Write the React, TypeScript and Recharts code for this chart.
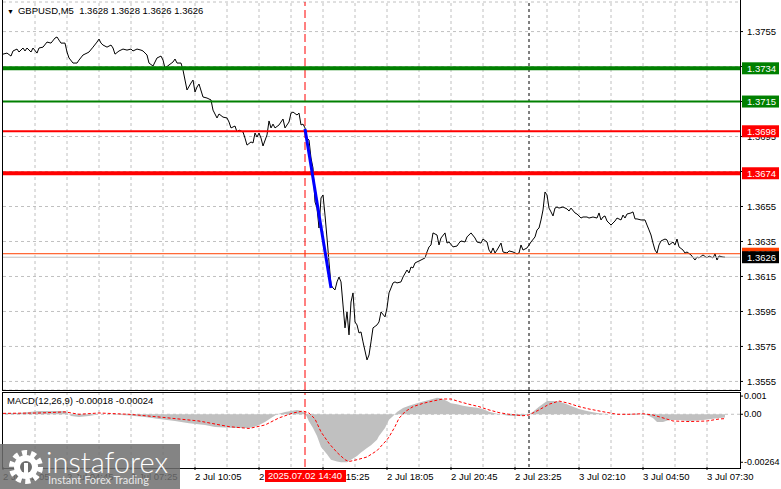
import React from "react";
import {
  ComposedChart,
  Line,
  Area,
  XAxis,
  YAxis,
  CartesianGrid,
  ReferenceLine,
} from "recharts";

// GBPUSD M5, bar index 0 = 2 Jul 02:05
const priceBars = [
  0, 2, 4, 5, 7, 8, 10, 11, 12, 14, 15, 17, 18, 20, 22, 24, 26, 27, 28, 29, 31, 32, 33, 35, 37, 38, 40, 42, 43, 45,
  47, 48, 49, 50, 52, 54, 55, 56, 58, 60, 62, 64, 65, 67, 69, 70, 72, 73, 75, 77, 79, 80, 81, 83, 85, 86, 87, 89, 90, 91,
  92, 94, 95, 96, 97, 98, 100, 102, 104, 105, 107, 108, 110, 112, 113, 114, 116, 117, 118, 120, 121, 122, 124, 125, 126, 127, 128, 129, 130, 132,
  133, 134, 135, 136, 138, 140, 141, 143, 144, 145, 147, 148, 149, 150, 151, 152, 153, 154, 155, 156, 157, 158, 159, 160, 161, 162, 163, 164, 165, 166,
  167, 168, 169, 170, 171, 172, 173, 174, 175, 176, 177, 178, 179, 180, 182, 183, 184, 185, 187, 188, 189, 191, 192, 193, 194, 195, 196, 197, 199, 200,
  202, 203, 204, 205, 206, 207, 209, 211, 212, 213, 214, 215, 217, 218, 219, 221, 222, 223, 225, 227, 228, 229, 231, 232, 234, 236, 237, 239, 240, 242,
  243, 244, 245, 246, 247, 249, 250, 252, 253, 255, 257, 258, 259, 260, 262, 263, 264, 266, 267, 268, 269, 270, 271, 272, 273, 274, 275, 276, 277, 278,
  280, 282, 283, 284, 286, 287, 289, 290, 292, 293, 295, 297, 298, 299, 300, 301, 302, 304, 306, 307, 309, 310, 311, 312, 314, 315, 316, 317, 319, 321,
  322, 323, 324, 325, 326, 327, 328, 329, 331, 332, 333, 335, 336, 337, 338, 340, 341, 342, 344, 346, 347, 348, 350, 352, 353, 355, 356, 357, 358, 360,
  361,
];
const priceClose = [
  1.37421, 1.37427, 1.3741, 1.37439, 1.3745, 1.37433, 1.37456, 1.37439, 1.37456, 1.37433, 1.37456, 1.37427, 1.37456, 1.37461, 1.3749, 1.37484, 1.37513, 1.37519, 1.37501, 1.37484, 1.37484, 1.37433, 1.37399, 1.3737, 1.3737, 1.37387, 1.37416, 1.37427, 1.37433, 1.37461,
  1.3749, 1.37507, 1.37484, 1.37473, 1.37461, 1.37473, 1.37456, 1.37421, 1.37439, 1.3745, 1.37444, 1.3745, 1.37439, 1.3745, 1.37444, 1.37439, 1.37416, 1.3737, 1.37353, 1.37399, 1.3741, 1.37387, 1.37341, 1.37359, 1.37376, 1.37393, 1.3737, 1.3737, 1.3733, 1.37273,
  1.37216, 1.37256, 1.37273, 1.37204, 1.37233, 1.3725, 1.37176, 1.3717, 1.37159, 1.37101, 1.37056, 1.37079, 1.37061, 1.37056, 1.37033, 1.36999, 1.3701, 1.36976, 1.36987, 1.36976, 1.36941, 1.36901, 1.36919, 1.36913, 1.3697, 1.36947, 1.3697, 1.36941, 1.36896, 1.36959,
  1.37039, 1.36999, 1.37021, 1.36999, 1.37016, 1.3705, 1.36999, 1.37033, 1.37084, 1.3709, 1.37073, 1.37084, 1.37016, 1.37021, 1.36999, 1.36941, 1.3693, 1.36827, 1.3677, 1.36576, 1.36541, 1.36427, 1.36599, 1.36616, 1.36501, 1.3637, 1.36233, 1.36101, 1.36084, 1.36073,
  1.36119, 1.36147, 1.36119, 1.35987, 1.35856, 1.35947, 1.35816, 1.36004, 1.36056, 1.3589, 1.35873, 1.35827, 1.35833, 1.35776, 1.35673, 1.35701, 1.35776, 1.35856, 1.35873, 1.3589, 1.35947, 1.35919, 1.3597, 1.36056, 1.36084, 1.36113, 1.36119, 1.36113, 1.36119, 1.36147,
  1.36187, 1.3617, 1.36204, 1.36199, 1.36227, 1.36233, 1.36244, 1.36256, 1.3629, 1.36319, 1.3633, 1.36399, 1.36387, 1.3633, 1.3637, 1.36399, 1.36341, 1.36347, 1.36319, 1.36324, 1.36341, 1.36353, 1.36347, 1.36376, 1.36399, 1.3637, 1.36347, 1.36341, 1.36364, 1.36347,
  1.36301, 1.36284, 1.36313, 1.36284, 1.36301, 1.36341, 1.3629, 1.36284, 1.36296, 1.3629, 1.36279, 1.36284, 1.3633, 1.36301, 1.36313, 1.3633, 1.36347, 1.36376, 1.36416, 1.36427, 1.36473, 1.3653, 1.36633, 1.36616, 1.36541, 1.36519, 1.36496, 1.36541, 1.36547, 1.36541,
  1.36547, 1.36536, 1.36524, 1.36541, 1.36513, 1.36507, 1.36484, 1.3649, 1.3649, 1.36484, 1.3649, 1.36484, 1.36513, 1.36473, 1.3649, 1.36496, 1.36467, 1.36444, 1.36467, 1.36484, 1.36473, 1.36501, 1.36484, 1.36507, 1.36513, 1.36519, 1.36479, 1.36479, 1.36473, 1.36473,
  1.36444, 1.36416, 1.36387, 1.36341, 1.36301, 1.36284, 1.3633, 1.36353, 1.36364, 1.36359, 1.3633, 1.36347, 1.3633, 1.36364, 1.36319, 1.36301, 1.36284, 1.3629, 1.36273, 1.36244, 1.36261, 1.36256, 1.36273, 1.36256, 1.36267, 1.36256, 1.36279, 1.36244, 1.36267, 1.36261,
  1.3626,
];

const macdBars = [
  0, 8, 18, 26, 31, 34, 38, 43, 48, 53, 63, 71, 78, 86, 93, 101, 106, 116, 123, 127, 131, 134, 137, 141, 144, 147, 149, 151, 153, 155,
  157, 159, 162, 164, 167, 169, 172, 174, 177, 179, 182, 184, 187, 188, 191, 193, 196, 197, 200, 203, 207, 210, 213, 217, 219, 222, 224, 227, 230, 233,
  237, 240, 243, 247, 250, 253, 257, 260, 263, 265, 268, 272, 275, 278, 282, 285, 288, 292, 295, 298, 303, 310, 317, 322, 325, 327, 330, 333, 338, 343,
  350, 357, 361,
];
const macdMain = [
  0.00007, 0.00007, 0.00018, 0.00018, 0.00018, -0.0001, -0.00015, -0.0001, 0, 0, -0.00007, -0.00015, -0.00026, -0.00037, -0.0005, -0.00059, -0.0007, -0.00075, -0.00075, -0.00064, -0.00042, -0.0002, 0, 0.00013, 0.00018, 0.00024, 0.0002, 0.00007, -0.0004, -0.00075,
  -0.0012, -0.0018, -0.0022, -0.0025, -0.0026, -0.00264, -0.00264, -0.0025, -0.0023, -0.0021, -0.00185, -0.0017, -0.0014, -0.0012, -0.00075, -0.0003, 0, 0.00013, 0.00035, 0.00047, 0.0006, 0.0007, 0.00079, 0.00091, 0.00088, 0.00073, 0.0006, 0.00055, 0.00047, 0.00042,
  0.00036, 0.00029, 0.00014, 0.00003, -0.00002, -0.00008, -0.0001, -0.00008, 0, 0.00014, 0.00042, 0.00073, 0.00073, 0.0007, 0.00055, 0.00042, 0.00029, 0.00018, 0.00011, 0.00005, 0, 0, 0.00003, -0.00004, -0.0002, -0.00042, -0.00042, -0.00031, -0.00031, -0.00037,
  -0.00031, -0.00022, -0.00018,
];

const signalBars = [
  0, 18, 31, 38, 48, 63, 78, 98, 113, 123, 131, 138, 145, 150, 153, 156, 159, 163, 167, 171, 173, 177, 182, 187, 192, 193, 196, 198, 201, 205,
  210, 215, 220, 224, 228, 233, 238, 243, 248, 253, 260, 263, 268, 273, 278, 283, 288, 293, 300, 307, 313, 320, 325, 330, 335, 343, 352, 358, 361,
];
const macdSignal = [
  0.00005, 0.00007, 0.00013, 0, 0.00007, 0, -0.00015, -0.00037, -0.00068, -0.00078, -0.00059, -0.0002, 0.00007, 0.00018, 0.00007, -0.00026, -0.00097, -0.0016, -0.0021, -0.0025, -0.0026, -0.0025, -0.00235, -0.002, -0.0014, -0.00125, -0.00068, -0.00022, 0.00014, 0.00042,
  0.0006, 0.00073, 0.00084, 0.00084, 0.0007, 0.00055, 0.00042, 0.00024, 0.00009, 0, -0.00008, -0.00004, 0.00024, 0.00055, 0.00073, 0.0006, 0.00042, 0.00029, 0.00014, 0, 0, 0.00003, -0.00004, -0.0002, -0.00037, -0.0004, -0.00037, -0.00026, -0.00024,
];

// sell trade drawn on the chart
const tradeBars = [151, 164];
const tradePrices = [1.36993, 1.36084];

const levelValues = [1.3734, 1.3715, 1.3698, 1.3674];
const levelColors = ["#008000", "#008000", "#ff0000", "#ff0000"];
const levelWidths = [4, 2, 2, 4];

const askPrice = 1.3628;
const bidPrice = 1.3626;
const entryBar = 151;
const entryLabel = "2025.07.02 14:40";
const dayBar = 263;

const priceTicks = [1.3555, 1.3575, 1.3595, 1.3615, 1.3635, 1.3655, 1.3675, 1.3695, 1.3715, 1.3735, 1.3755];
const macdTicks = [0.001, 0, -0.00264];
const macdTickLabels = ["0.001", "0.00", "-0.00264"];
const timeTickBars = [0, 32, 64, 96, 128, 160, 192, 224, 256, 288, 320, 352];
const timeLabels = [
  "2 Jul 02:05", "2 Jul 04:45", "2 Jul 07:25", "2 Jul 10:05", "2 Jul 12:45", "2 Jul 15:25",
  "2 Jul 18:05", "2 Jul 20:45", "2 Jul 23:25", "3 Jul 02:10", "3 Jul 04:50", "3 Jul 07:30",
];
const gridBars = [16, 32, 48, 64, 80, 96, 112, 128, 144, 160, 176, 192, 208, 224, 240, 256, 272, 288, 304, 320, 336, 352];

const FONT = "'Liberation Sans', Arial, sans-serif";
const FS = 9.5;
const X_DOMAIN: [number, number] = [0, 368.5];
const PRICE_DOMAIN: [number, number] = [1.35501, 1.37719];
const MACD_DOMAIN: [number, number] = [-0.0029, 0.00117];

function buildRows() {
  const map = new Map<number, any>();
  const put = (bars: number[], vals: number[], key: string) =>
    bars.forEach((b, i) => {
      const r = map.get(b) ?? { bar: b };
      r[key] = vals[i];
      map.set(b, r);
    });
  put(priceBars, priceClose, "price");
  put(macdBars, macdMain, "macd");
  put(signalBars, macdSignal, "signal");
  put(tradeBars, tradePrices, "trade");
  return [...map.values()].sort((a, b) => a.bar - b.bar);
}
const rows = buildRows();

const priceBox = (text: string, bg: string) => (props: any) => {
  const vb = props.viewBox;
  const x = vb.x + vb.width + 2;
  return (
    <g>
      <rect x={x} y={vb.y - 6} width={37} height={12} fill={bg} />
      <text x={x + 5} y={vb.y} dy="0.35em" fill="#fff" fontSize={FS} fontFamily={FONT}>
        {text}
      </text>
    </g>
  );
};

const timeBox = (props: any) => {
  const vb = props.viewBox;
  const y = vb.y + vb.height + 3;
  return (
    <g>
      <rect x={vb.x - 40} y={y} width={81} height={12} fill="#ff0000" />
      <text x={vb.x} y={y + 6} dy="0.35em" textAnchor="middle" fill="#fff" fontSize={FS} fontFamily={FONT}>
        {entryLabel}
      </text>
    </g>
  );
};

const TimeTick = (props: any) => {
  const { x, y, payload } = props;
  const i = timeTickBars.indexOf(payload.value);
  return (
    <text x={x} y={y} dy="0.71em" textAnchor="start" fill="#000" fontSize={FS} fontFamily={FONT}>
      {timeLabels[i]}
    </text>
  );
};

const gridLines = gridBars.map((b) => (
  <ReferenceLine key={"g" + b} x={b} stroke="#c0c0c0" strokeDasharray="3 3" />
));

const abs = (left: number, top: number): React.CSSProperties => ({ position: "absolute", left, top });

export default function App() {
  return (
    <div
      style={{
        position: "fixed",
        left: 0,
        top: 0,
        width: 781,
        height: 489,
        background: "#fff",
        overflow: "hidden",
        fontFamily: FONT,
      }}
    >
      {/* price panel */}
      <div style={abs(0, 0)}>
        <ComposedChart width={781} height={392} data={rows} margin={{ top: 2, right: 0, left: 3, bottom: 2 }}>
          <CartesianGrid vertical={false} stroke="#c0c0c0" strokeDasharray="3 3" />
          <XAxis type="number" dataKey="bar" domain={X_DOMAIN} hide />
          <YAxis
            orientation="right"
            domain={PRICE_DOMAIN}
            ticks={priceTicks}
            width={41}
            axisLine={false}
            tickLine={{ stroke: "#000" }}
            tickSize={3}
            tickMargin={4}
            tick={{ fontSize: FS, fill: "#000", fontFamily: FONT, textAnchor: "start" }}
            tickFormatter={(v: number) => v.toFixed(4)}
          />
          {gridLines}
          <ReferenceLine x={entryBar} stroke="#ff0000" strokeDasharray="8 4" />
          <ReferenceLine x={dayBar} stroke="#000" strokeDasharray="3 3" />
          <Line
            dataKey="price"
            type="linear"
            stroke="#000"
            strokeWidth={1}
            dot={false}
            connectNulls
            isAnimationActive={false}
          />
        </ComposedChart>
      </div>

      {/* level lines, price tags and trade line on top of the axis */}
      <div style={abs(0, 0)}>
        <ComposedChart width={781} height={392} data={rows} margin={{ top: 2, right: 41, left: 3, bottom: 2 }}>
          <XAxis type="number" dataKey="bar" domain={X_DOMAIN} hide />
          <YAxis domain={PRICE_DOMAIN} width={0} hide />
          <ReferenceLine y={askPrice} stroke="#ff4000" label={priceBox(askPrice.toFixed(4), "#ff4000")} />
          <ReferenceLine y={bidPrice} stroke="#c0c0c0" label={priceBox(bidPrice.toFixed(4), "#000")} />
          {levelValues.map((v, i) => (
            <ReferenceLine
              key={"l" + v}
              y={v}
              stroke={levelColors[i]}
              strokeWidth={levelWidths[i]}
              label={priceBox(v.toFixed(4), levelColors[i])}
            />
          ))}
          <Line
            dataKey="trade"
            type="linear"
            stroke="#0000ff"
            strokeWidth={3}
            dot={false}
            connectNulls
            isAnimationActive={false}
          />
        </ComposedChart>
      </div>

      {/* MACD panel */}
      <div style={abs(0, 390)}>
        <ComposedChart width={781} height={99} data={rows} margin={{ top: 3, right: 0, left: 3, bottom: 0 }}>
          <XAxis
            type="number"
            dataKey="bar"
            domain={X_DOMAIN}
            ticks={timeTickBars}
            interval={0}
            height={22}
            axisLine={false}
            tickLine={{ stroke: "#000" }}
            tickSize={3}
            tickMargin={3}
            tick={<TimeTick />}
          />
          <YAxis
            orientation="right"
            domain={MACD_DOMAIN}
            ticks={macdTicks}
            width={41}
            axisLine={false}
            tickLine={{ stroke: "#000" }}
            tickSize={3}
            tickMargin={1}
            tick={{ fontSize: 9, fill: "#000", fontFamily: FONT, textAnchor: "start" }}
            tickFormatter={(v: number, i: number) => macdTickLabels[i]}
          />
          {gridLines}
          <ReferenceLine y={0} stroke="#c0c0c0" strokeDasharray="3 3" />
          <Area
            dataKey="macd"
            type="linear"
            baseValue={0}
            stroke="none"
            fill="#c0c0c0"
            fillOpacity={1}
            connectNulls
            isAnimationActive={false}
          />
          <ReferenceLine x={dayBar} stroke="#000" strokeDasharray="3 3" />
        </ComposedChart>
      </div>

      {/* signal line, entry marker and its time tag on top of the time axis */}
      <div style={abs(0, 390)}>
        <ComposedChart width={781} height={99} data={rows} margin={{ top: 3, right: 41, left: 3, bottom: 22 }}>
          <XAxis type="number" dataKey="bar" domain={X_DOMAIN} hide />
          <YAxis domain={MACD_DOMAIN} width={0} hide />
          <ReferenceLine x={entryBar} stroke="#ff0000" strokeDasharray="8 4" label={timeBox} />
          <Line
            dataKey="signal"
            type="linear"
            stroke="#ff0000"
            strokeDasharray="3 2"
            strokeWidth={1}
            dot={false}
            connectNulls
            isAnimationActive={false}
          />
        </ComposedChart>
      </div>

      {/* panel frames */}
      <div
        style={{
          ...abs(2, -1),
          width: 739,
          height: 392,
          boxSizing: "border-box",
          border: "1px solid #000",
          pointerEvents: "none",
        }}
      />
      <div
        style={{
          ...abs(2, 392),
          width: 739,
          height: 77,
          boxSizing: "border-box",
          border: "1px solid #000",
          pointerEvents: "none",
        }}
      />

      <div style={{ ...abs(7, 5), fontSize: FS, color: "#000", whiteSpace: "pre", lineHeight: "12px" }}>
        <span style={{ fontSize: 7, marginRight: 4 }}>▼</span>
        {"GBPUSD,M5  1.3628 1.3628 1.3626 1.3626"}
      </div>
      <div style={{ ...abs(7, 395), fontSize: FS, color: "#000", whiteSpace: "pre", lineHeight: "12px" }}>
        {"MACD(12,26,9) -0.00018 -0.00024"}
      </div>

      {/* watermark */}
      <div style={{ ...abs(0, 444), width: 180, height: 45, background: "rgba(110,110,110,0.85)" }}>
        <svg width={40} height={40} style={abs(6, 3)} viewBox="0 0 40 40">
          <circle cx={20} cy={20} r={14} fill="none" stroke="#fff" strokeWidth={6} strokeDasharray="5 3.8" />
          <circle cx={20} cy={20} r={12} fill="#fff" />
          <circle cx={20} cy={20} r={6} fill="#6e6e6e" />
          <rect x={18} y={16} width={4} height={14} fill="#fff" />
        </svg>
        <div
          style={{
            ...abs(46, 3),
            fontSize: 29,
            lineHeight: "29px",
            color: "#fff",
            fontFamily: "Lato, 'Open Sans', sans-serif",
            fontWeight: 300,
          }}
        >
          instaforex
        </div>
        <div
          style={{
            ...abs(48, 30),
            fontSize: 11,
            lineHeight: "12px",
            color: "#e8e8e8",
            fontFamily: "Lato, 'Open Sans', sans-serif",
          }}
        >
          Instant Forex Trading
        </div>
      </div>
    </div>
  );
}
